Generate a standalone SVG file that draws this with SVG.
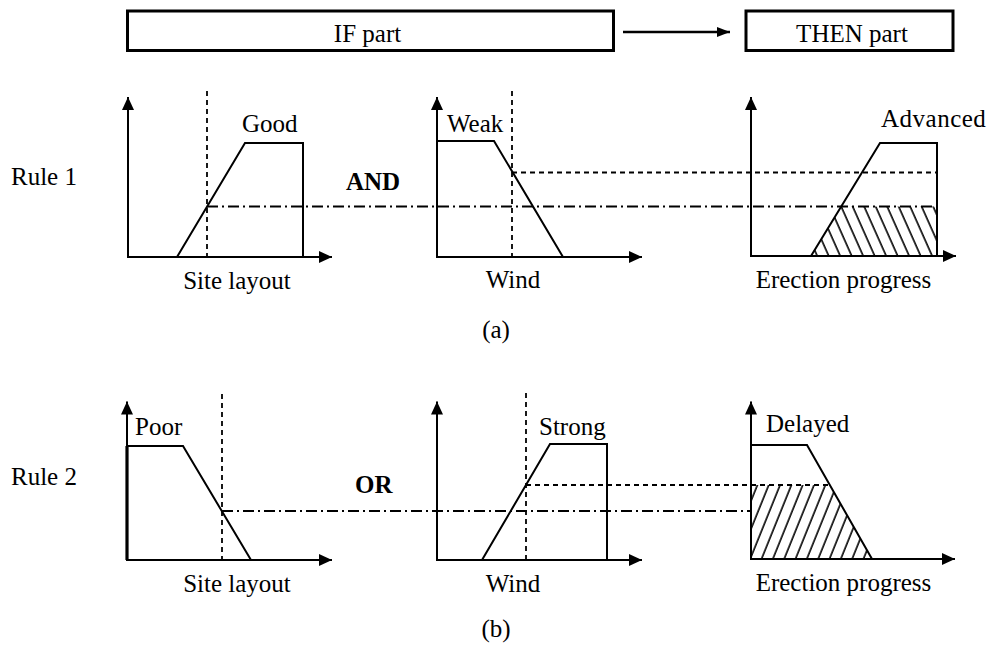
<svg xmlns="http://www.w3.org/2000/svg" width="991" height="652" viewBox="0 0 991 652">
<style>
.t{font-family:"Liberation Serif","Times New Roman",serif;font-size:25px;fill:#000}
.b{font-weight:bold}
.m{text-anchor:middle}
.ax{stroke:#000;stroke-width:2;fill:none;marker-end:url(#ah)}
.mf{stroke:#000;stroke-width:2;fill:none;stroke-linejoin:miter}
.dash{stroke:#000;stroke-width:1.8;fill:none;stroke-dasharray:5,4}
.dd{stroke:#000;stroke-width:1.8;fill:none;stroke-dasharray:11,4,2,4}
.box{stroke:#000;stroke-width:3;fill:#fff}
</style>
<defs>
<marker id="ah" markerUnits="userSpaceOnUse" markerWidth="14" markerHeight="12" refX="13" refY="6" orient="auto">
<path d="M0,0 L13,6 L0,12 z" fill="#000"/>
</marker>
<marker id="ah2" markerUnits="userSpaceOnUse" markerWidth="14" markerHeight="10" refX="13" refY="5" orient="auto">
<path d="M0,0 L13,5 L0,10 z" fill="#000"/>
</marker>
<pattern id="hatchA" patternUnits="userSpaceOnUse" width="10.5" height="10" patternTransform="rotate(-24)">
<line x1="2" y1="-2" x2="2" y2="12" stroke="#000" stroke-width="1.6"/>
</pattern>
<pattern id="hatchB" patternUnits="userSpaceOnUse" width="10.5" height="10" patternTransform="rotate(22)">
<line x1="2" y1="-2" x2="2" y2="12" stroke="#000" stroke-width="1.6"/>
</pattern>
</defs>

<g id="if-box">
<rect class="box" x="127.5" y="11" width="486" height="39.5"/>
<text class="t m" x="367.5" y="41.5">IF part</text>
</g>
<g id="then-box">
<rect class="box" x="746" y="11" width="207" height="39.5"/>
<text class="t m" x="852" y="41.5">THEN part</text>
</g>

<g id="labels">
<text class="t" x="11" y="185">Rule 1</text>
<text class="t" x="11" y="485">Rule 2</text>
<text class="t b" x="346" y="190">AND</text>
<text class="t b" x="355" y="493">OR</text>
<text class="t m" x="496" y="338">(a)</text>
<text class="t m" x="496" y="637">(b)</text>
</g>

<g id="r1-site">
<line class="ax" x1="128" y1="257" x2="128" y2="97"/>
<line class="ax" x1="127" y1="257" x2="332" y2="257"/>
<polyline class="mf" points="177,257 245,143 303,143 303,257"/>
<line class="dash" x1="207" y1="91" x2="207" y2="257"/>
<text class="t" x="242" y="132">Good</text>
<text class="t m" x="237" y="289">Site layout</text>
</g>

<g id="r1-wind">
<line class="ax" x1="437" y1="257" x2="437" y2="97"/>
<line class="ax" x1="436" y1="257" x2="642" y2="257"/>
<polyline class="mf" points="437,141 494,141 563,257"/>
<line class="dash" x1="512" y1="91" x2="512" y2="257"/>
<text class="t" x="447" y="132">Weak</text>
<text class="t m" x="513" y="288">Wind</text>
</g>

<g id="r1-erection">
<polygon points="841.2,206.5 937,206.5 937,256 811,256" fill="url(#hatchA)" stroke="none"/>
<line class="ax" x1="751" y1="256" x2="751" y2="97"/>
<line class="ax" x1="750" y1="256" x2="956" y2="256"/>
<polyline class="mf" points="811,256 880,143 937,143 937,256"/>
<text class="t" x="881" y="127" letter-spacing="0.5">Advanced</text>
<text class="t m" x="843.5" y="288">Erection progress</text>
</g>

<g id="r2-site">
<line class="ax" x1="127" y1="560" x2="127" y2="401.5"/>
<line class="ax" x1="126" y1="560" x2="332" y2="560"/>
<line x1="127" y1="446" x2="127" y2="560" stroke="#000" stroke-width="3.2"/>
<polyline class="mf" points="127,446 183,446 251,560"/>
<line class="dash" x1="222" y1="394" x2="222" y2="560"/>
<text class="t" x="135" y="435">Poor</text>
<text class="t m" x="237" y="592">Site layout</text>
</g>

<g id="r2-wind">
<line class="ax" x1="437" y1="560" x2="437" y2="401.5"/>
<line class="ax" x1="436" y1="560" x2="642" y2="560"/>
<polyline class="mf" points="482,560 550,444 607,444 607,560"/>
<line class="dash" x1="526" y1="393" x2="526" y2="560"/>
<text class="t" x="539" y="435">Strong</text>
<text class="t m" x="513" y="592">Wind</text>
</g>

<g id="r2-erection">
<polygon points="751,485 830,485 872,559 751,559" fill="url(#hatchB)" stroke="none"/>
<line class="ax" x1="751" y1="559" x2="751" y2="401.5"/>
<line class="ax" x1="750" y1="559" x2="955" y2="559"/>
<polyline class="mf" points="751,445 807,445 872,559"/>
<text class="t" x="766" y="432">Delayed</text>
<text class="t m" x="843.5" y="591">Erection progress</text>
</g>

<g id="connectors">
<line x1="623" y1="32" x2="730" y2="32" stroke="#000" stroke-width="2.5" marker-end="url(#ah2)"/>
<line class="dd" x1="207" y1="206.5" x2="937" y2="206.5"/>
<line class="dash" x1="512" y1="172.5" x2="937" y2="172.5"/>
<line class="dd" x1="222" y1="511" x2="751" y2="511"/>
<line class="dash" x1="526" y1="485" x2="830" y2="485"/>
</g>
</svg>
